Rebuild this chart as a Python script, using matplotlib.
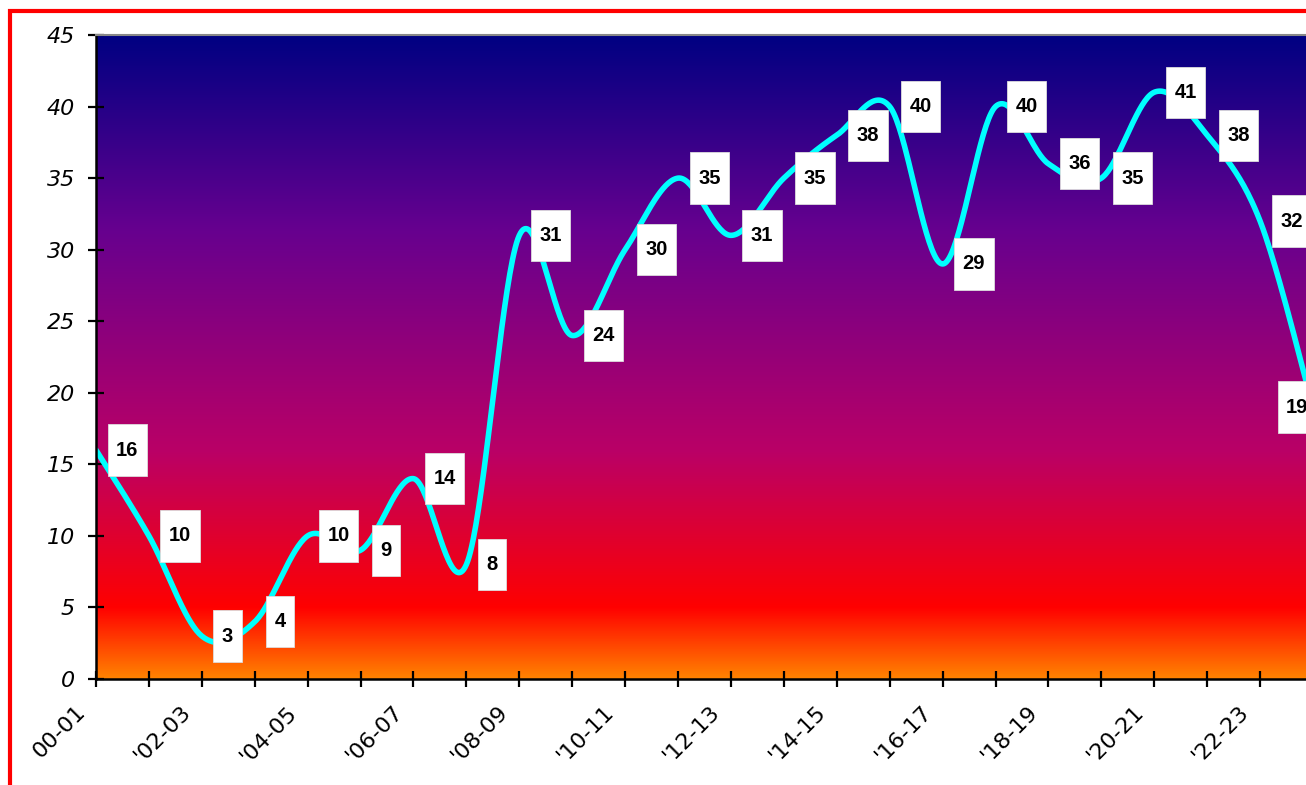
import numpy as np
import matplotlib
matplotlib.use("Agg")
import matplotlib.pyplot as plt
import matplotlib.transforms as mtransforms
from matplotlib.colors import LinearSegmentedColormap
from matplotlib.patches import Rectangle
from matplotlib.path import Path

# season labels (one per year), only every other one is printed on the axis
seasons = ["00-01", "'01-02", "'02-03", "'03-04", "'04-05", "'05-06", "'06-07", "'07-08",
           "'08-09", "'09-10", "'10-11", "'11-12", "'12-13", "'13-14", "'14-15", "'15-16",
           "'16-17", "'17-18", "'18-19", "'19-20", "'20-21", "'21-22", "'22-23", "'23-24"]
values = [16, 10, 3, 4, 10, 9, 14, 8, 31, 24, 30, 35, 31, 35, 38, 40, 29, 40, 36, 35, 41, 38, 32, 19]
yticks = [0, 5, 10, 15, 20, 25, 30, 35, 40, 45]

# "Early sunset" style background
sunset = LinearSegmentedColormap.from_list(
    "sunset",
    [(0.0, "#FF8200"), (0.11, "#FF0000"), (0.352, "#BA0066"), (0.70, "#66008F"), (1.0, "#000082")],
)


def smooth(xs, ys, n=40):
    # bezier smoothing like the spreadsheet "smoothed line" option
    xs = np.asarray(xs, float)
    ys = np.asarray(ys, float)
    px = np.concatenate([[xs[0]], xs, [xs[-1]]])
    py = np.concatenate([[ys[0]], ys, [ys[-1]]])
    t = np.linspace(0, 1, n)
    out_x, out_y = [], []
    for i in range(1, len(px) - 2):
        p0 = np.array([px[i], py[i]])
        p3 = np.array([px[i + 1], py[i + 1]])
        c1 = p0 + (np.array([px[i + 1], py[i + 1]]) - np.array([px[i - 1], py[i - 1]])) / 6
        c2 = p3 - (np.array([px[i + 2], py[i + 2]]) - np.array([px[i], py[i]])) / 6
        b = ((1 - t) ** 3)[:, None] * p0 + (3 * (1 - t) ** 2 * t)[:, None] * c1 \
            + (3 * (1 - t) * t ** 2)[:, None] * c2 + (t ** 3)[:, None] * p3
        out_x.extend(b[:, 0])
        out_y.extend(b[:, 1])
    return np.array(out_x), np.array(out_y)


def label_box(x0, y0, width, height, mutation_size):
    padx = 0.42 * mutation_size
    h = 2.55 * mutation_size
    cy = y0 + height / 2
    verts = [(x0 - padx, cy - h / 2), (x0 + width + padx, cy - h / 2),
             (x0 + width + padx, cy + h / 2), (x0 - padx, cy + h / 2),
             (x0 - padx, cy - h / 2)]
    return Path(verts, closed=True)


fig = plt.figure(figsize=(13.06, 7.85), dpi=100)
ax = fig.add_axes([96 / 1306, 106 / 785, 1217 / 1306, 644 / 785])

x = np.arange(len(values))
ax.imshow(np.linspace(0, 1, 256)[:, None], cmap=sunset, origin="lower", aspect="auto",
          extent=[0, len(values) - 1, 0, 45], zorder=0)

sx, sy = smooth(x, values)
ax.plot(sx, sy, color="#00FFFF", lw=4.0, solid_capstyle="round", zorder=2)

for i, v in enumerate(values):
    dx = 20 if i < len(values) - 1 else -27
    ax.annotate(str(v), (i, v), xytext=(dx, 0), textcoords="offset pixels",
                ha="left", va="center", fontsize=14.5, fontweight="bold",
                family="Liberation Sans", color="black", zorder=3,
                bbox=dict(boxstyle=label_box, fc="white", ec="#dddddd", lw=0.6),
                annotation_clip=False)

ax.set_xlim(0, len(values) - 1)
ax.set_ylim(0, 45)
ax.set_yticks(yticks)
ax.set_yticklabels([str(t) for t in yticks], fontsize=16, fontstyle="italic")
ax.set_xticks(x)
ax.set_xticklabels([])

# season labels, every other year, slanted and a little left of their tick
lab_trans = mtransforms.blended_transform_factory(ax.transData, ax.transAxes) \
    + mtransforms.ScaledTranslation(-14 / 100, -30 / 100, fig.dpi_scale_trans)
for i, s in enumerate(seasons):
    if i % 2 == 0:
        ax.text(i, 0, s, transform=lab_trans, rotation=45, rotation_mode="anchor",
                ha="right", va="center", fontsize=16, clip_on=False)

ax.tick_params(axis="both", direction="inout", length=12, width=1.6, color="black")
ax.tick_params(axis="y", pad=9)

for side in ["left", "bottom"]:
    ax.spines[side].set_linewidth(1.8)
    ax.spines[side].set_color("black")
ax.spines["top"].set_color("#888888")
ax.spines["top"].set_linewidth(1.5)
ax.spines["right"].set_visible(False)

# red frame round the chart (cut at right and bottom like the original)
fig.patches.append(Rectangle((9.5 / 1306, -0.05), 1.2, 1.05 - 10.5 / 785,
                             transform=fig.transFigure, fill=False, ec="red", lw=3))

fig.savefig("out.png", dpi=100)
